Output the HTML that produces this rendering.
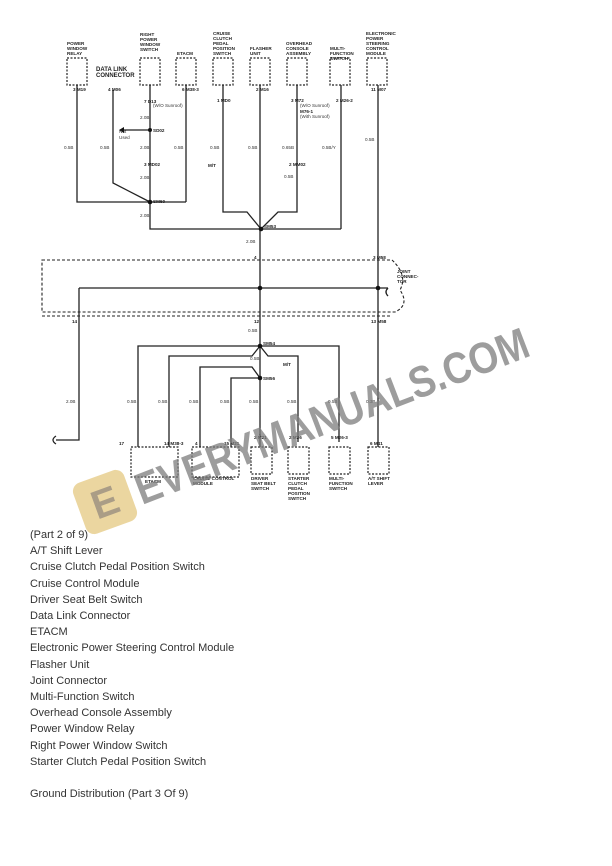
<!DOCTYPE html>
<html><head><meta charset="utf-8"><style>
html,body{margin:0;padding:0;background:#fff;}
body{width:612px;height:866px;position:relative;overflow:hidden;font-family:"Liberation Sans",sans-serif;}
.list{position:absolute;left:30px;top:527px;font-size:11px;color:#333;line-height:16.2px;}
</style></head><body>
<svg width="612" height="866" style="position:absolute;left:0;top:0" font-family="Liberation Sans, sans-serif">
<g fill="none" stroke="#222" stroke-width="1.3">
<!-- top boxes -->
<g stroke-dasharray="2,1.5" stroke-width="1.2">
<rect x="67" y="58" width="20" height="27"/>
<rect x="140" y="58" width="20" height="27"/>
<rect x="176" y="58" width="20" height="27"/>
<rect x="213" y="58" width="20" height="27"/>
<rect x="250" y="58" width="20" height="27"/>
<rect x="287" y="58" width="20" height="27"/>
<rect x="330" y="58" width="20" height="27"/>
<rect x="367" y="58" width="20" height="27"/>
</g>
<!-- top wires -->
<polyline points="77,85 77,202 186,202"/>
<line x1="186" y1="85" x2="186" y2="202"/>
<polyline points="113,90 113,183 150,202"/>
<polyline points="150,85 150,229 341,229"/>
<line x1="341" y1="85" x2="341" y2="229"/>
<polyline points="223,85 223,212 247,212 261,229"/>
<polyline points="297,85 297,212 278,212 261,229"/>
<line x1="260" y1="85" x2="260" y2="229"/>
<line x1="260" y1="229" x2="260" y2="346"/>
<line x1="378" y1="85" x2="378" y2="447"/>
<line x1="150" y1="130" x2="124" y2="130"/>
<!-- joint connector -->
<g stroke-dasharray="3,2" stroke-width="1.1">
<path d="M42,260 H392 Q408,275 400,290 Q410,305 395,312 H42 Z"/>
<line x1="42" y1="316" x2="392" y2="316"/>
</g>
<polyline points="79,288 388,288"/>
<path d="M388,288 q-4,4 0,8"/>
<polyline points="79,288 79,440 56,440"/>
<path d="M56,436 q-6,4 0,8"/>
<!-- lower -->
<polyline points="260,346 138,346 138,447"/>
<polyline points="260,346 339,346 339,442"/>
<polyline points="260,346 252,356 169,356 169,447"/>
<polyline points="260,346 268,356 298,356 298,442"/>
<polyline points="260,378 252,367 200,367 200,447"/>
<polyline points="260,378 231,378 231,447"/>
<line x1="260" y1="346" x2="260" y2="447"/>
<g stroke-dasharray="2,1.5" stroke-width="1.2">
<rect x="131" y="447" width="47" height="30"/>
<rect x="192" y="447" width="47" height="30"/>
<rect x="251" y="447" width="21" height="27"/>
<rect x="288" y="447" width="21" height="27"/>
<rect x="329" y="447" width="21" height="27"/>
<rect x="368" y="447" width="21" height="27"/>
</g>
</g>
<g fill="#111">
<circle cx="150" cy="130" r="2"/><circle cx="150" cy="202" r="2.3"/><circle cx="261" cy="229" r="2.3"/>
<circle cx="260" cy="288" r="2.3"/><circle cx="378" cy="288" r="2.3"/>
<circle cx="260" cy="346" r="2.3"/><circle cx="260" cy="378" r="2.3"/>
<path d="M124,127 l-5,3 5,3z"/>
</g>
<g font-size="4.6" font-weight="bold" fill="#222">
<text x="67" y="45">POWER</text><text x="67" y="50">WINDOW</text><text x="67" y="55">RELAY</text>
<text x="140" y="36">RIGHT</text><text x="140" y="41">POWER</text><text x="140" y="46">WINDOW</text><text x="140" y="51">SWITCH</text>
<text x="177" y="55">ETACM</text>
<text x="213" y="35">CRUISE</text><text x="213" y="40">CLUTCH</text><text x="213" y="45">PEDAL</text><text x="213" y="50">POSITION</text><text x="213" y="55">SWITCH</text>
<text x="250" y="50">FLASHER</text><text x="250" y="55">UNIT</text>
<text x="286" y="45">OVERHEAD</text><text x="286" y="50">CONSOLE</text><text x="286" y="55">ASSEMBLY</text>
<text x="330" y="50">MULTI-</text><text x="330" y="55">FUNCTION</text><text x="330" y="60">SWITCH</text>
<text x="366" y="35">ELECTRONIC</text><text x="366" y="40">POWER</text><text x="366" y="45">STEERING</text><text x="366" y="50">CONTROL</text><text x="366" y="55">MODULE</text>
<text x="96" y="71" font-size="6">DATA LINK</text><text x="96" y="77" font-size="6">CONNECTOR</text>
<text x="73" y="91">3 M19</text><text x="108" y="91">4 M06</text><text x="182" y="91">6 M38-3</text>
<text x="256" y="91">2 M16</text><text x="371" y="91">11 M07</text>
<text x="144" y="103">7 D13</text><text x="153" y="132">SD02</text><text x="144" y="166">3 MD02</text>
<text x="217" y="102">1 MD0</text><text x="291" y="102">3 M72</text><text x="336" y="102">2 M26-2</text>
<text x="300" y="113">M76-1</text><text x="289" y="166">2 MM02</text>
<text x="153" y="203">SM60</text><text x="264" y="228">SM53</text>
<text x="254" y="259">4</text><text x="373" y="259">3 M58</text>
<text x="72" y="323">14</text><text x="254" y="323">12</text><text x="371" y="323">13 M58</text>
<text x="397" y="273">JOINT</text><text x="397" y="278">CONNEC-</text><text x="397" y="283">TOR</text>
<text x="263" y="345">SM54</text><text x="263" y="380">SM56</text>
<text x="283" y="366">M/T</text><text x="208" y="167">M/T</text>
<text x="119" y="445">17</text><text x="164" y="445">14 M38-3</text><text x="195" y="445">4</text><text x="224" y="445">15 M21</text>
<text x="254" y="439">2 M21</text><text x="289" y="439">2 M26</text><text x="331" y="439">5 M26-3</text><text x="370" y="445">6 M41</text>
<text x="145" y="483">ETACM</text><text x="193" y="480">CRUISE CONTROL</text><text x="193" y="485">MODULE</text>
<text x="251" y="480">DRIVER</text><text x="251" y="485">SEAT BELT</text><text x="251" y="490">SWITCH</text>
<text x="288" y="480">STARTER</text><text x="288" y="485">CLUTCH</text><text x="288" y="490">PEDAL</text><text x="288" y="495">POSITION</text><text x="288" y="500">SWITCH</text>
<text x="329" y="480">MULTI-</text><text x="329" y="485">FUNCTION</text><text x="329" y="490">SWITCH</text>
<text x="368" y="480">A/T SHIFT</text><text x="368" y="485">LEVER</text>
</g>
<g font-size="4.6" fill="#333">
<text x="153" y="107">(W/O Sunroof)</text><text x="300" y="107">(W/O Sunroof)</text><text x="300" y="118">(With Sunroof)</text>
<text x="119" y="133">Not</text><text x="119" y="139">Used</text>
<text x="64" y="149">0.5B</text><text x="100" y="149">0.5B</text><text x="140" y="119">2.0B</text><text x="140" y="149">2.0B</text><text x="140" y="179">2.0B</text>
<text x="174" y="149">0.5B</text><text x="210" y="149">0.5B</text><text x="248" y="149">0.5B</text><text x="282" y="149">0.65B</text><text x="284" y="178">0.5B</text>
<text x="322" y="149">0.5B/Y</text><text x="365" y="141">0.5B</text><text x="140" y="217">2.0B</text><text x="246" y="243">2.0B</text>
<text x="248" y="332">0.5B</text><text x="250" y="360">0.5B</text>
<text x="66" y="403">2.0B</text><text x="127" y="403">0.5B</text><text x="158" y="403">0.5B</text><text x="189" y="403">0.5B</text><text x="220" y="403">0.5B</text><text x="249" y="403">0.5B</text><text x="287" y="403">0.5B</text><text x="328" y="403">0.5B</text><text x="366" y="403">0.3B</text>
</g>
<!-- watermark -->
<g transform="translate(105,502) rotate(-20)">
<rect x="-27" y="-27" width="54" height="54" rx="9" fill="#e8cf8f" opacity="0.85"/>
<text x="0" y="14" text-anchor="middle" font-size="40" font-weight="bold" fill="#9a8f80" opacity="0.8">E</text>
</g>
<text transform="translate(142,505) rotate(-21)" font-size="44" font-weight="bold" fill="#7d7d7d" opacity="0.75" textLength="418" lengthAdjust="spacingAndGlyphs">EVERYMANUALS.COM</text>
</svg>
<div class="list">(Part 2 of 9)<br>A/T Shift Lever<br>Cruise Clutch Pedal Position Switch<br>Cruise Control Module<br>Driver Seat Belt Switch<br>Data Link Connector<br>ETACM<br>Electronic Power Steering Control Module<br>Flasher Unit<br>Joint Connector<br>Multi-Function Switch<br>Overhead Console Assembly<br>Power Window Relay<br>Right Power Window Switch<br>Starter Clutch Pedal Position Switch<br><br>Ground Distribution (Part 3 Of 9)</div>
</body></html>
